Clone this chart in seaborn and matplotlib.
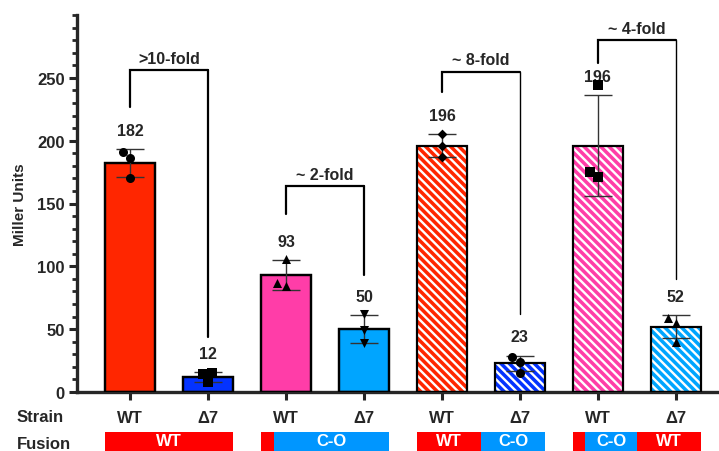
import matplotlib
matplotlib.use("Agg")
import matplotlib.pyplot as plt
import matplotlib.transforms as mtransforms
from matplotlib.patches import Rectangle
from matplotlib.ticker import MultipleLocator
import numpy as np
import pandas as pd
import seaborn as sns

# ---------------- data ----------------
strain = ["WT", "Δ7", "WT", "Δ7", "WT", "Δ7", "WT", "Δ7"]
means = [182, 12, 93, 50, 196, 23, 196, 52]
sds = [11, 4, 12, 11, 9, 6, 40, 9]
rep1 = [191, 15, 106, 62, 205, 28, 244, 59]
rep2 = [186, 14, 84, 49, 196, 24, 171, 55]
rep3 = [170, 8, 87, 39, 187, 15, 175, 40]
markers = ["o", "s", "^", "v", "D", "o", "s", "^"]
bar_colors = ["#FF2600", "#0433FF", "#FF3DA8", "#00A5FF",
              "#FF2600", "#0433FF", "#FF3DA8", "#00A5FF"]
hatched = [False, False, False, False, True, True, True, True]

fold_labels = [">10-fold", "~ 2-fold", "~ 8-fold", "~ 4-fold"]
bracket_left = [227, 142, 239, 262]
bracket_top = [256, 164, 255, 280]
bracket_right = [44, 93, 62, 90]
bracket_right_lw = [1.6, 1.6, 1.0, 1.0]

fusion_labels = [["WT"], ["", "C-O"], ["WT", "C-O"], ["", "C-O", "WT"]]
fusion_kinds = [["WT"], ["WT", "C-O"], ["WT", "C-O"], ["WT", "C-O", "WT"]]
fusion_fracs = [[1.0], [0.1, 0.9], [0.5, 0.5], [0.1, 0.4, 0.5]]
fusion_colors = {"WT": "#FF0000", "C-O": "#0096FF"}

# ---------------- style ----------------
sns.set_style("ticks")
plt.rcParams["font.family"] = ["Liberation Sans", "DejaVu Sans"]
plt.rcParams["font.weight"] = "bold"
plt.rcParams["hatch.linewidth"] = 1.7

cats = [f"c{i}" for i in range(len(means))]
df = pd.DataFrame({"cat": cats, "mean": means})

fig = plt.figure(figsize=(7.19, 4.52), dpi=100)
ax = fig.add_axes([77 / 719, 1 - 393 / 452, (718 - 77) / 719, (393 - 16) / 452])

BW = 0.65
sns.barplot(data=df, x="cat", y="mean", hue="cat", palette=bar_colors,
            saturation=1, legend=False, width=BW, edgecolor="black",
            linewidth=1.6, order=cats, ax=ax, zorder=2)
for p, h in zip(ax.patches, hatched):
    if h:
        p.set_hatch("\\\\\\\\")
        p.set_edgecolor("white")
        p.set_linewidth(0)
# black outline on top of hatched bars
sns.barplot(data=df, x="cat", y="mean", color="black", fill=False,
            width=BW, linewidth=1.6, order=cats, ax=ax, zorder=3)

# error bars
xs = np.arange(len(means))
ax.errorbar(xs, means, yerr=sds, fmt="none", ecolor="#333333",
            elinewidth=1.0, capsize=10, capthick=1.0, zorder=4)

# individual replicates
for i, c in enumerate(cats):
    sub = pd.DataFrame({"cat": [c] * 3, "val": [rep1[i], rep2[i], rep3[i]]})
    sns.swarmplot(data=sub, x="cat", y="val", order=cats, marker=markers[i],
                  color="black", size=6.5 if markers[i] != "D" else 5,
                  ax=ax, zorder=5)

# value labels
for i in range(len(means)):
    ax.text(xs[i], means[i] + sds[i] + 15, f"{means[i]}", ha="center",
            va="center", fontsize=11.5, fontweight="bold")

# fold-change brackets
for k in range(4):
    xl, xr = 2 * k, 2 * k + 1
    ax.plot([xl, xl, xr], [bracket_left[k], bracket_top[k], bracket_top[k]],
            color="black", lw=1.6, solid_joinstyle="miter", zorder=6)
    ax.plot([xr, xr], [bracket_top[k], bracket_right[k]],
            color="black", lw=bracket_right_lw[k], zorder=6)
    ax.text((xl + xr) / 2, bracket_top[k] + 3.5, fold_labels[k], ha="center",
            va="bottom", fontsize=11.5, fontweight="bold")

# axes formatting
ax.set_xlim(-0.68, 7.54)
ax.set_ylim(0, 300)
ax.set_yticks([0, 50, 100, 150, 200, 250])
ax.yaxis.set_minor_locator(MultipleLocator(10))
ax.set_xticks(xs)
ax.set_xticklabels(strain)
ax.set_xlabel("")
ax.set_ylabel("Miller Units", fontsize=11, fontweight="bold", labelpad=7)
for lab in ax.get_xticklabels() + ax.get_yticklabels():
    lab.set_fontweight("bold")
    lab.set_fontsize(12)
sns.despine(ax=ax)
ax.spines["left"].set_linewidth(2.4)
ax.spines["bottom"].set_linewidth(2.4)
ax.tick_params(axis="y", which="major", length=6, width=2.2, pad=3)
ax.tick_params(axis="y", which="minor", length=3.5, width=2.0)
ax.tick_params(axis="x", which="major", length=6, width=2.2, pad=7)

# row labels
fig.text(17 / 719, 1 - 417 / 452, "Strain", ha="left", va="center",
         fontsize=12, fontweight="bold")
fig.text(17 / 719, 1 - 445 / 452, "Fusion", ha="left", va="center",
         fontsize=12, fontweight="bold")

# fusion construct bars
trans = mtransforms.blended_transform_factory(ax.transData, ax.transAxes)
y0 = (393 - 453) / 377
hgt = (453 - 433) / 377
for g in range(4):
    left = 2 * g - BW / 2
    span = 1 + BW
    pos = left
    for lab, kind, frac in zip(fusion_labels[g], fusion_kinds[g], fusion_fracs[g]):
        w = span * frac
        ax.add_patch(Rectangle((pos, y0), w, hgt, transform=trans,
                               facecolor=fusion_colors[kind], edgecolor="none",
                               clip_on=False))
        if lab:
            ax.text(pos + w / 2, y0 + hgt / 2 + 0.003, lab, transform=trans,
                    ha="center", va="center", color="white", fontsize=12,
                    fontweight="bold", clip_on=False)
        pos += w

fig.savefig("out.png", dpi=100)
